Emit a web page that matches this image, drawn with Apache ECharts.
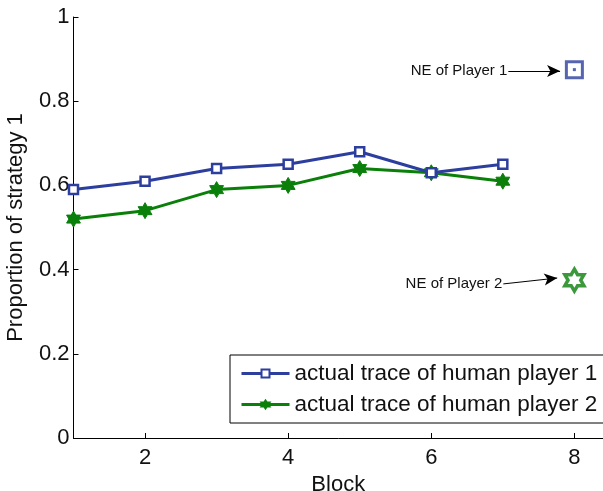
<!DOCTYPE html>
<html>
<head>
<meta charset="utf-8">
<script src="https://cdn.jsdelivr.net/npm/echarts@6/dist/echarts.min.js"></script>
<style>
  html, body { margin: 0; padding: 0; background: #fff; }
  #main { width: 603px; height: 491px; }
</style>
</head>
<body>
<div id="main"></div>
<script>
// data
var blocks = [1, 2, 3, 4, 5, 6, 7];
var player1 = [0.59, 0.61, 0.64, 0.65, 0.68, 0.63, 0.65];
var player2 = [0.52, 0.54, 0.59, 0.60, 0.64, 0.63, 0.61];
var ne1 = [[8, 0.875]];
var ne2 = [[8, 0.375]];
var xTicks = [2, 4, 6, 8];

var BLUE = '#2d3f9e';
var GREEN = '#0a7f0a';
var FONT = 'Liberation Sans';
// six-pointed star
var HEX = 'path://M0,-10 L2.887,-5 L8.66,-5 L5.774,0 L8.66,5 L2.887,5 L0,10 L-2.887,5 L-8.66,5 L-5.774,0 L-8.66,-5 L-2.887,-5 Z';

function pairs(xs, ys) {
  return xs.map(function (x, i) { return [x, ys[i]]; });
}

var myChart = echarts.init(document.getElementById('main'));

var option = {
  animation: false,
  textStyle: { fontFamily: FONT },
  grid: { left: 73.5, right: 0, top: 17, bottom: 53, outerBoundsMode: 'none' },
  xAxis: {
    type: 'value', min: 1, max: 8.4,
    name: 'Block', nameLocation: 'middle', nameGap: 30,
    nameTextStyle: { fontSize: 22, color: '#111', fontFamily: FONT },
    axisLine: { lineStyle: { color: '#000', width: 1 } },
    axisTick: { inside: true, length: 5, customValues: xTicks, lineStyle: { color: '#000' } },
    axisLabel: { customValues: xTicks, fontSize: 22, color: '#111', margin: 9, fontFamily: FONT },
    splitLine: { show: false }
  },
  yAxis: {
    type: 'value', min: 0, max: 1, interval: 0.2,
    name: 'Proportion of strategy 1', nameLocation: 'middle', nameGap: 47,
    nameTextStyle: { fontSize: 22, color: '#111', fontFamily: FONT },
    axisLine: { show: true, lineStyle: { color: '#000', width: 1 } },
    axisTick: { show: true, inside: true, length: 5, lineStyle: { color: '#000' } },
    axisLabel: { fontSize: 22, color: '#111', margin: 4, fontFamily: FONT },
    splitLine: { show: false }
  },
  legend: {
    orient: 'vertical', left: 230, top: 355,
    padding: [7, 10, 7, 10], itemGap: 8,
    itemWidth: 48, itemHeight: 10,
    borderColor: '#000', borderWidth: 1, backgroundColor: '#fff',
    lineStyle: { width: 3 },
    textStyle: { fontSize: 22.5, color: '#111', fontFamily: FONT },
    data: ['actual trace of human player 1', 'actual trace of human player 2']
  },
  series: [
    {
      name: 'actual trace of human player 1', type: 'line',
      data: pairs(blocks, player1),
      symbol: 'rect', symbolSize: 9,
      lineStyle: { color: BLUE, width: 3 },
      itemStyle: { color: '#fff', borderColor: BLUE, borderWidth: 2.5 },
      z: 3
    },
    {
      name: 'actual trace of human player 2', type: 'line',
      data: pairs(blocks, player2),
      symbol: HEX, symbolSize: 16, symbolKeepAspect: true,
      lineStyle: { color: GREEN, width: 3 },
      itemStyle: { color: GREEN, borderColor: GREEN, borderWidth: 1 },
      z: 2
    },
    {
      name: 'NE1', type: 'scatter', data: ne1,
      symbol: 'rect', symbolSize: 16,
      itemStyle: { color: '#fff', borderColor: BLUE, borderWidth: 3 },
      markLine: {
        silent: true, symbol: ['none', 'arrow'], symbolSize: [9, 13],
        lineStyle: { color: '#000', width: 1, type: 'solid' },
        label: { show: true, position: 'start', distance: 1, formatter: 'NE of Player 1',
                 fontSize: 15, color: '#111', fontFamily: FONT },
        data: [[{ coord: [7.077, 0.872] }, { coord: [7.80, 0.872] }]]
      }
    },
    {
      name: 'NE1dot', type: 'scatter', data: ne1,
      symbol: 'rect', symbolSize: 3,
      itemStyle: { color: BLUE }
    },
    {
      name: 'NE2', type: 'scatter', data: ne2,
      symbol: HEX, symbolSize: 22, symbolKeepAspect: true,
      itemStyle: { color: '#fff', borderColor: GREEN, borderWidth: 3.5 },
      markLine: {
        silent: true, symbol: ['none', 'arrow'], symbolSize: [9, 13],
        lineStyle: { color: '#000', width: 1, type: 'solid' },
        label: { show: true, position: 'start', distance: 1, formatter: 'NE of Player 2',
                 fontSize: 15, color: '#111', fontFamily: FONT },
        data: [[{ coord: [7.007, 0.366] }, { coord: [7.76, 0.380] }]]
      }
    }
  ]
};

myChart.setOption(option);
</script>
</body>
</html>
